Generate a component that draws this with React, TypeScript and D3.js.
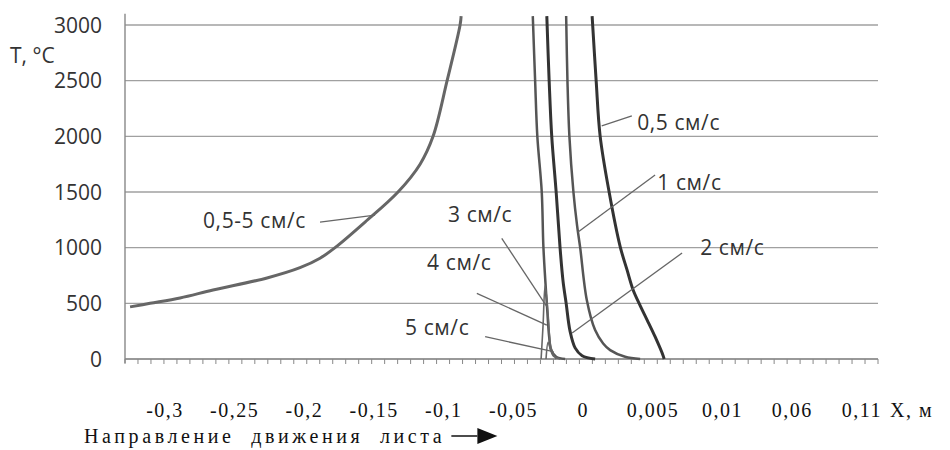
import React, { useEffect, useRef } from 'react';
import * as d3 from 'd3';

// x is measured in axis tick steps (the source axis is not to scale), y in °C
const tickSteps = 58;
const yTicks = [0, 500, 1000, 1500, 2000, 2500, 3000];
const xTickLabels = ['-0,3', '-0,25', '-0,2', '-0,15', '-0,1', '-0,05', '0', '0,005', '0,01', '0,06', '0,11'];

// 0,5-5 см/с (heating ahead of the source)
const seriesAll: [number, number][] = [
    [0.39, 468], [1.93, 500], [4.24, 548], [6.78, 620], [10.94, 728], [13.48, 820],
    [15.02, 905], [16.18, 1000], [18.49, 1230], [21.03, 1500], [22.73, 1750],
    [23.73, 2000], [24.81, 2500], [25.81, 3000], [25.89, 3080]
];
const series05: [number, number][] = [
    [35.98, 3080], [36.29, 2500], [36.6, 2000], [37.29, 1500], [38.14, 1010], [38.67, 800],
    [39.14, 620], [39.68, 480], [40.22, 350], [40.83, 200], [41.45, 30], [41.53, 0]
];
const series1: [number, number][] = [
    [33.98, 3080], [34.08, 2500], [34.23, 2000], [34.54, 1500], [34.82, 1200], [35.06, 1000],
    [35.57, 530], [36.21, 260], [36.83, 140], [37.37, 80], [38.52, 20], [39.68, 0]
];
const series2: [number, number][] = [
    [32.49, 3080], [32.67, 2500], [32.87, 2000], [33.21, 1500], [33.51, 1000], [33.74, 700],
    [33.98, 500], [34.28, 250], [34.67, 100], [35.21, 30], [36.21, 0]
];
const series3: [number, number][] = [
    [31.41, 3080], [31.59, 2500], [31.76, 2000], [32.1, 1500], [32.23, 1000], [32.49, 500],
    [32.67, 200], [32.82, 80], [33.21, 20], [33.9, 0]
];
const series4: [number, number][] = [
    [32.05, 0], [32.2, 300], [32.36, 660], [32.59, 400], [32.82, 100], [33.21, 0]
];
const series5: [number, number][] = [
    [32.43, 0], [32.59, 150], [32.74, 100], [32.97, 30], [33.51, 0]
];

// callouts: text start, leader start, leader end (same units as the data)
const callouts = [
    { text: '0,5-5 см/с', at: [6.01, 1177], from: [15.02, 1230], to: [19.26, 1293] },
    { text: '0,5 см/с', at: [39.45, 2057], from: [36.72, 2093], to: [39.04, 2183] },
    { text: '1 см/с', at: [41.0, 1518], from: [34.9, 1141], to: [40.83, 1653] },
    { text: '2 см/с', at: [44.3, 934], from: [34.44, 234], to: [42.91, 952] },
    { text: '3 см/с', at: [24.88, 1230], from: [29.02, 1084], to: [32.49, 470] },
    { text: '4 см/с', at: [23.27, 799], from: [27.1, 590], to: [32.49, 305] },
    { text: '5 см/с', at: [21.57, 216], from: [27.74, 200], to: [33.0, 66] }
];

const W = 950;
const H = 450;
const margin = { top: 25, right: 72, bottom: 91, left: 125 };
const plotW = W - margin.left - margin.right;
const plotH = H - margin.top - margin.bottom;

const sans = '"Open Sans", "DejaVu Sans", sans-serif';
const serif = '"Liberation Serif", "DejaVu Serif", serif';

const App = () => {
    const ref = useRef<SVGSVGElement>(null);

    useEffect(() => {
        const svg = d3.select(ref.current);
        svg.selectAll('*').remove();

        svg.append('rect').attr('width', W).attr('height', H).attr('fill', '#fff');

        const g = svg.append('g').attr('transform', `translate(${margin.left},${margin.top})`);

        const x = d3.scaleLinear().domain([0, tickSteps]).range([0, plotW]);
        const y = d3.scaleLinear().domain([0, 3000]).range([plotH, 0]);

        // grid
        g.selectAll('.grid')
            .data(yTicks)
            .enter().append('line')
            .attr('x1', 0).attr('x2', plotW)
            .attr('y1', d => y(d)).attr('y2', d => y(d))
            .attr('stroke', d => (d === 0 ? '#777' : '#a0a0a0'))
            .attr('stroke-width', d => (d === 0 ? 1.6 : 1.3));

        // y axis line
        g.append('line')
            .attr('x1', 0).attr('x2', 0)
            .attr('y1', y(3100)).attr('y2', plotH + 4)
            .attr('stroke', '#888').attr('stroke-width', 1.4);

        // minor ticks along x
        g.selectAll('.xtick')
            .data(d3.range(0, tickSteps + 1))
            .enter().append('line')
            .attr('x1', d => x(d)).attr('x2', d => x(d))
            .attr('y1', plotH).attr('y2', plotH + 5)
            .attr('stroke', '#888').attr('stroke-width', 1);

        // y tick labels
        g.selectAll('.ylabel')
            .data(yTicks)
            .enter().append('text')
            .attr('x', -23)
            .attr('y', d => y(d))
            .attr('dy', '0.36em')
            .attr('text-anchor', 'end')
            .style('font-family', sans)
            .style('font-size', '21px')
            .attr('fill', '#333')
            .text(d => d);

        g.append('text')
            .attr('x', -115).attr('y', 38)
            .style('font-family', sans)
            .style('font-size', '21px')
            .attr('fill', '#333')
            .text('T, °C');

        // curves
        const line = d3.line<[number, number]>()
            .x(d => x(d[0]))
            .y(d => y(d[1]))
            .curve(d3.curveCatmullRom.alpha(0.5));

        const series = [
            { data: seriesAll, color: '#666', width: 3 },
            { data: series05, color: '#333', width: 3 },
            { data: series1, color: '#555', width: 2.5 },
            { data: series2, color: '#333', width: 3 },
            { data: series3, color: '#555', width: 2.5 },
            { data: series4, color: '#666', width: 1.6 },
            { data: series5, color: '#666', width: 1.6 }
        ];

        g.selectAll('.curve')
            .data(series)
            .enter().append('path')
            .attr('d', d => line(d.data))
            .attr('fill', 'none')
            .attr('stroke', d => d.color)
            .attr('stroke-width', d => d.width)
            .attr('stroke-linejoin', 'round');

        // callouts
        g.selectAll('.leader')
            .data(callouts)
            .enter().append('line')
            .attr('x1', d => x(d.from[0])).attr('y1', d => y(d.from[1]))
            .attr('x2', d => x(d.to[0])).attr('y2', d => y(d.to[1]))
            .attr('stroke', '#666').attr('stroke-width', 1.3);

        g.selectAll('.callout')
            .data(callouts)
            .enter().append('text')
            .attr('x', d => x(d.at[0]))
            .attr('y', d => y(d.at[1]))
            .style('font-family', sans)
            .style('font-size', '21px')
            .style('letter-spacing', '0.6px')
            .attr('fill', '#333')
            .text(d => d.text);

        // x tick labels (placed evenly, as in the source)
        const labelScale = d3.scalePoint<string>()
            .domain(xTickLabels)
            .range([40, 737]);

        g.selectAll('.xlabel')
            .data(xTickLabels)
            .enter().append('text')
            .attr('x', d => labelScale(d) as number)
            .attr('y', plotH + 58)
            .attr('text-anchor', 'middle')
            .style('font-family', serif)
            .style('font-size', '20px')
            .style('letter-spacing', '1.5px')
            .attr('fill', '#111')
            .text(d => d);

        g.append('text')
            .attr('x', 765).attr('y', plotH + 58)
            .style('font-family', serif)
            .style('font-size', '20px')
            .style('letter-spacing', '1.5px')
            .attr('fill', '#111')
            .text('X, м');

        // caption with arrow
        const caption = g.append('text')
            .attr('x', -41).attr('y', plotH + 84)
            .style('font-family', serif)
            .style('font-size', '20px')
            .style('letter-spacing', '3.6px')
            .style('word-spacing', '8px')
            .attr('fill', '#111')
            .text('Направление движения листа');

        const capEnd = -41 + (caption.node() as SVGTextElement).getComputedTextLength();
        const arrowY = plotH + 77;
        g.append('line')
            .attr('x1', capEnd + 6).attr('x2', capEnd + 32)
            .attr('y1', arrowY).attr('y2', arrowY)
            .attr('stroke', '#111').attr('stroke-width', 1.5);
        g.append('path')
            .attr('d', `M${capEnd + 32},${arrowY - 8}L${capEnd + 52},${arrowY}L${capEnd + 32},${arrowY + 8}Z`)
            .attr('fill', '#111');
    }, []);

    return <svg ref={ref} width={W} height={H} style={{ position: 'absolute', left: 0, top: 0 }}></svg>;
};

export default App;
